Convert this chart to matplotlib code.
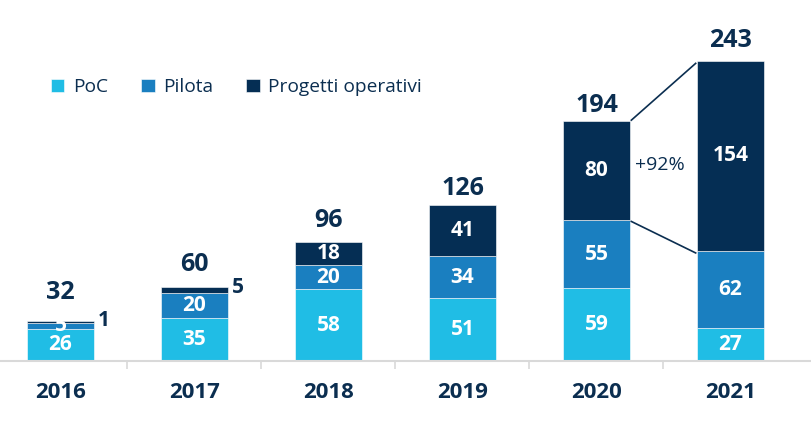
import matplotlib
matplotlib.use("Agg")
import matplotlib.pyplot as plt
import numpy as np

years = ["2016", "2017", "2018", "2019", "2020", "2021"]
poc = [26, 35, 58, 51, 59, 27]
pilota = [5, 20, 20, 34, 55, 62]
operativi = [1, 5, 18, 41, 80, 154]
series_names = ["PoC", "Pilota", "Progetti operativi"]
growth_label = "+92%"

C_POC = "#20BDE5"
C_PIL = "#1A7FC0"
C_OPE = "#052E54"
C_TXT = "#0B2E50"

plt.rcParams['font.family'] = ['Open Sans', 'DejaVu Sans']

fig = plt.figure(figsize=(8.12, 4.28), dpi=100)
ax = fig.add_axes([0, 67/428, 1, 361/428])
x = np.arange(len(years))
w = 0.5
poc_a = np.array(poc); pil_a = np.array(pilota); ope_a = np.array(operativi)
totals = poc_a + pil_a + ope_a

ax.bar(x, poc_a, w, color=C_POC, edgecolor="white", linewidth=0.4, label=series_names[0])
ax.bar(x, pil_a, w, bottom=poc_a, color=C_PIL, edgecolor="white", linewidth=0.4, label=series_names[1])
ax.bar(x, ope_a, w, bottom=poc_a + pil_a, color=C_OPE, edgecolor="white", linewidth=0.4, label=series_names[2])

ax.set_xlim(-60.5/134, (812-60.5)/134)
ax.set_ylim(0, 361/1.235)

for s in ["top", "right", "left"]:
    ax.spines[s].set_visible(False)
ax.spines["bottom"].set_color("#D9D9D9")
ax.spines["bottom"].set_linewidth(1.5)
ax.set_yticks([])
ax.set_xticks(x[:-1] + 0.5)
ax.set_xticklabels([])
ax.tick_params(axis="x", direction="out", length=6, width=1.2, color="#D9D9D9")

for i, yl in enumerate(years):
    ax.annotate(yl, (i, 0), xytext=(0, -31), textcoords="offset pixels",
                ha="center", va="center", fontsize=16, fontweight="bold", color=C_TXT)

# inner labels
for i in range(len(years)):
    segs = [(poc_a[i], 0), (pil_a[i], poc_a[i]), (ope_a[i], poc_a[i] + pil_a[i])]
    for k, (v, b) in enumerate(segs):
        if v >= 15 or (k == 1 and v >= 5):
            ax.text(i, b + v / 2, str(v), ha="center", va="center", fontsize=15,
                    fontweight="bold", color="white")
        else:
            ax.annotate(str(v), (i + w / 2, b + v / 2), xytext=(4, 2), textcoords="offset pixels",
                        ha="left", va="center", fontsize=15, fontweight="bold", color=C_TXT)

# totals
total_pad = [16, 10, 9, 4, 3, 8]
for i, t in enumerate(totals):
    ax.annotate(str(t), (i, t), xytext=(0, total_pad[i]), textcoords="offset pixels",
                ha="center", va="bottom", fontsize=18, fontweight="bold", color=C_TXT)

# connector lines 2020 -> 2021
g = 0.01
ax.plot([4 + w/2 + g, 5 - w/2 - g], [totals[4] + 1, totals[5] - 2], color=C_TXT, lw=1.2)
ax.plot([4 + w/2 + g, 5 - w/2 - g], [poc_a[4] + pil_a[4] - 1, poc_a[5] + pil_a[5] - 1.5], color=C_TXT, lw=1.2)
ax.text(4.47, (totals[4] + poc_a[4] + pil_a[4]) / 2 + 5, growth_label, ha="center", va="center",
        fontsize=14, color=C_TXT)

leg = ax.legend(loc="upper left", bbox_to_anchor=(51/812, 1 - 78/361), ncol=3, frameon=False,
                handlelength=0.7, handleheight=0.7, handletextpad=0.45, columnspacing=1.73,
                fontsize=13.8, borderaxespad=0, borderpad=0)
for t in leg.get_texts():
    t.set_color(C_TXT)

fig.savefig("out.png", dpi=100)
